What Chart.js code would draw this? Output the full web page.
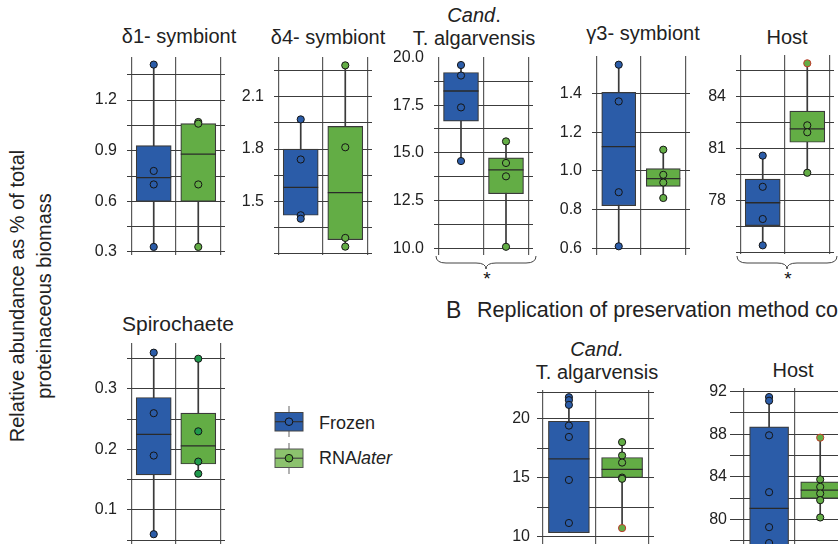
<!DOCTYPE html>
<html>
<head>
<meta charset="utf-8">
<script src="https://cdn.jsdelivr.net/npm/chart.js@4"></script>
<style>
  body { margin: 0; width: 838px; height: 544px; overflow: hidden; background: #fff; position: relative;
         font-family: "Liberation Sans", Arial, sans-serif; color: #222; }
  canvas { position: absolute; }
  .t { position: absolute; transform: translate(-50%, -50%); font-size: 20px; line-height: 23px;
       white-space: nowrap; text-align: center; }
  .l { position: absolute; font-size: 18px; white-space: nowrap; transform: translateY(-50%); }
  svg { position: absolute; left: 0; top: 0; }
</style>
</head>
<body>

<div class="t" style="left:179px;top:36px">δ1- symbiont</div>
<div class="t" style="left:328px;top:37px">δ4- symbiont</div>
<div class="t" style="left:474px;top:27px"><i>Cand</i>.<br>T. algarvensis</div>
<div class="t" style="left:643px;top:33px">γ3- symbiont</div>
<div class="t" style="left:787px;top:37px">Host</div>
<div class="t" style="left:178px;top:323px;font-size:21px">Spirochaete</div>
<div class="t" style="left:597px;top:361px"><i>Cand.</i><br>T. algarvensis</div>
<div class="t" style="left:793px;top:370px">Host</div>

<div class="t" style="left:31px;top:296px;transform:translate(-50%,-50%) rotate(-90deg);line-height:27px">Relative abundance as % of total<br>proteinaceous biomass</div>

<div class="l" style="left:446px;top:310px;font-size:23px">B</div>
<div class="l" style="left:477px;top:310px;font-size:21.5px">Replication of preservation method comparison</div>

<div class="l" style="left:319px;top:423px">Frozen</div>
<div class="l" style="left:319px;top:458px">RNA<i>later</i></div>

<svg width="838" height="544">
  <!-- braces -->
  <path d="M436 256 Q436 263 446 263 L476 263 Q486 263 486 269 Q486 263 496 263 L526 263 Q536 263 536 256" fill="none" stroke="#444" stroke-width="1"/>
  <path d="M737 256 Q737 263 747 263 L777 263 Q787 263 787 269 Q787 263 797 263 L827 263 Q837 263 837 256" fill="none" stroke="#444" stroke-width="1"/>
  <text x="487" y="285" font-size="19" text-anchor="middle" fill="#111">*</text>
  <text x="788" y="285" font-size="19" text-anchor="middle" fill="#111">*</text>
  <!-- legend icons -->
  <line x1="289" y1="406" x2="289" y2="437" stroke="#888" stroke-width="1.3"/>
  <rect x="275" y="412.5" width="28" height="18.5" fill="#2b5ca8" stroke="#444" stroke-width="1"/>
  <line x1="275" y1="421.7" x2="303" y2="421.7" stroke="#333" stroke-width="1.2"/>
  <circle cx="289" cy="421.7" r="3.8" fill="#2b5ca8" stroke="#111" stroke-width="1"/>
  <line x1="289" y1="443" x2="289" y2="474" stroke="#888" stroke-width="1.3"/>
  <rect x="275" y="449" width="28" height="18.5" fill="#8cc26e" stroke="#555" stroke-width="1"/>
  <line x1="275" y1="458.2" x2="303" y2="458.2" stroke="#444" stroke-width="1.2"/>
  <circle cx="289" cy="458.2" r="3.8" fill="#5fad3f" stroke="#111" stroke-width="1"/>
</svg>

<canvas id="d1"></canvas>
<canvas id="d4"></canvas>
<canvas id="candA"></canvas>
<canvas id="g3"></canvas>
<canvas id="hostA"></canvas>
<canvas id="spiro"></canvas>
<canvas id="candB"></canvas>
<canvas id="hostB"></canvas>

<script>
const family = '"Liberation Sans", Arial, sans-serif';
const frozenBlue = '#2b5ca8';
const rnaGreen = '#63ad45';

// δ1- symbiont
const d1FrozenPts = [1.41, 0.78, 0.70, 0.33];
const d1RnaPts = [1.07, 1.06, 0.70, 0.33];
const d1FrozenBox = [0.60, 0.74, 0.93];   // q1, median, q3
const d1RnaBox = [0.60, 0.88, 1.06];
const d1Grid = [0.3, 0.45, 0.6, 0.75, 0.9, 1.05, 1.2, 1.35];
const d1Labels = [0.3, 0.6, 0.9, 1.2];

// δ4- symbiont
const d4FrozenPts = [1.97, 1.74, 1.42, 1.40];
const d4RnaPts = [2.28, 1.81, 1.29, 1.24];
const d4FrozenBox = [1.42, 1.58, 1.80];
const d4RnaBox = [1.28, 1.55, 1.93];
const d4Grid = [1.2, 1.35, 1.5, 1.65, 1.8, 1.95, 2.1, 2.25];
const d4Labels = [1.5, 1.8, 2.1];

// Cand. T. algarvensis (A)
const caFrozenPts = [19.6, 19.05, 17.38, 14.57];
const caRnaPts = [15.6, 14.47, 13.77, 10.08];
const caFrozenBox = [16.66, 18.24, 19.21];
const caRnaBox = [12.86, 14.11, 14.74];
const caGrid = [10, 11.25, 12.5, 13.75, 15, 16.25, 17.5, 18.75, 20];
const caLabels = [10, 12.5, 15, 17.5, 20];

// γ3- symbiont
const g3FrozenPts = [1.55, 1.36, 0.89, 0.61];
const g3RnaPts = [1.11, 0.98, 0.94, 0.86];
const g3FrozenBox = [0.82, 1.126, 1.407];
const g3RnaBox = [0.92, 0.96, 1.012];
const g3Grid = [0.6, 0.7, 0.8, 0.9, 1.0, 1.1, 1.2, 1.3, 1.4, 1.5];
const g3Labels = [0.6, 0.8, 1.0, 1.2, 1.4];

// Host (A)
const haFrozenPts = [80.6, 78.8, 76.94, 75.42];
const haRnaPts = [85.93, 82.35, 81.95, 79.61];
const haFrozenBox = [76.56, 77.88, 79.25];
const haRnaBox = [81.37, 82.15, 83.17];
const haGrid = [75, 76.5, 78, 79.5, 81, 82.5, 84, 85.5];
const haLabels = [78, 81, 84];

// Spirochaete
const spFrozenPts = [0.36, 0.26, 0.19, 0.06];
const spRnaPts = [0.35, 0.23, 0.18, 0.16];
const spFrozenBox = [0.158, 0.225, 0.286];
const spRnaBox = [0.176, 0.206, 0.26];
const spGrid = [0.05, 0.1, 0.15, 0.2, 0.25, 0.3, 0.35];
const spLabels = [0.1, 0.2, 0.3];

// Cand. T. algarvensis (B)
const cbFrozenPts = [21.8, 21.55, 21.15, 19.4, 18.44, 14.8, 11.16];
const cbRnaPts = [18.0, 16.87, 16.27, 15.0, 14.9, 10.73];
const cbFrozenBox = [10.34, 16.59, 19.77];
const cbRnaBox = [15.0, 15.7, 16.7];
const cbGrid = [10, 12.5, 15, 17.5, 20, 22.2];
const cbLabels = [10, 15, 20];

// Host (B)
const hbFrozenPts = [91.5, 91.15, 87.9, 82.55, 79.26, 77.76];
const hbRnaPts = [87.68, 83.75, 83.05, 82.43, 81.8, 80.17];
const hbFrozenBox = [74.0, 81.03, 88.7];
const hbRnaBox = [81.96, 82.75, 83.53];
const hbGrid = [78, 80, 82, 84, 86, 88, 90, 92];
const hbLabels = [80, 84, 88, 92];

function makePanel(id, p) {
  const axisW = 40;
  const cv = document.getElementById(id);
  cv.width = axisW + (p.area[2] - p.area[0]) + 2;
  cv.height = (p.area[3] - p.area[1]) + 20;
  cv.style.left = (p.area[0] - axisW) + 'px';
  cv.style.top = (p.area[1] - 10) + 'px';

  const boxes = [p.frozenBox, p.rnaBox];
  const pts = [p.frozenPts, p.rnaPts];

  const boxExtras = {
    id: 'boxExtras',
    beforeDatasetsDraw(chart) {
      // whiskers
      const { ctx, chartArea, scales: { x, y } } = chart;
      ctx.save();
      ctx.beginPath();
      ctx.rect(chartArea.left, chartArea.top, chartArea.width, chartArea.height);
      ctx.clip();
      ctx.strokeStyle = '#3a3a3a';
      ctx.lineWidth = 1.7;
      pts.forEach((arr, i) => {
        const px = x.getPixelForValue(i + 1);
        ctx.beginPath();
        ctx.moveTo(px, y.getPixelForValue(Math.max(...arr, boxes[i][2])));
        ctx.lineTo(px, y.getPixelForValue(Math.min(...arr, boxes[i][0])));
        ctx.stroke();
      });
      ctx.restore();
    },
    afterDatasetDraw(chart, args) {
      if (args.index !== 0) return;
      // medians
      const { ctx, scales: { y } } = chart;
      ctx.save();
      ctx.strokeStyle = '#2a2a2a';
      ctx.lineWidth = 1.3;
      chart.getDatasetMeta(0).data.forEach((bar, i) => {
        const py = y.getPixelForValue(boxes[i][1]);
        ctx.beginPath();
        ctx.moveTo(bar.x - bar.width / 2, py);
        ctx.lineTo(bar.x + bar.width / 2, py);
        ctx.stroke();
      });
      ctx.restore();
    }
  };

  const redEdge = p.redEdge || [];
  new Chart(cv, {
    data: {
      datasets: [{
        type: 'bar',
        order: 2,
        data: [{ x: 1, y: [p.frozenBox[0], p.frozenBox[2]] }, { x: 2, y: [p.rnaBox[0], p.rnaBox[2]] }],
        backgroundColor: [frozenBlue, rnaGreen],
        borderColor: '#3a3a3a',
        borderWidth: 1.2,
        borderSkipped: false,
        barThickness: p.boxW
      }, {
        type: 'scatter',
        order: 1,
        data: p.frozenPts.map(v => ({ x: 1, y: v })),
        pointRadius: p.r || 3.6,
        pointBackgroundColor: frozenBlue,
        pointBorderColor: '#151515',
        pointBorderWidth: 1
      }, {
        type: 'scatter',
        order: 0,
        data: p.rnaPts.map(v => ({ x: 2, y: v })),
        pointRadius: p.r || 3.6,
        pointBackgroundColor: p.rnaPtColor || rnaGreen,
        pointBorderColor: p.rnaPts.map(v => redEdge.includes(v) ? '#c0392b' : '#151515'),
        pointBorderWidth: 1
      }]
    },
    options: {
      responsive: false,
      animation: false,
      events: [],
      layout: { padding: { top: 10, bottom: 10, left: 0, right: 2 } },
      plugins: { legend: { display: false }, tooltip: { enabled: false } },
      scales: {
        x: {
          type: 'linear',
          min: p.xr[0], max: p.xr[1],
          offset: false,
          afterBuildTicks: s => { s.ticks = [{ value: 1 }, { value: 2 }]; },
          afterFit: s => { s.height = 0; s.paddingLeft = 0; s.paddingRight = 0; },
          ticks: { display: false },
          grid: { color: '#5a5a5a', lineWidth: 1.2, drawTicks: false },
          border: { display: false }
        },
        y: {
          min: p.yr[0], max: p.yr[1],
          afterBuildTicks: s => { s.ticks = p.grid.map(v => ({ value: v })); },
          afterFit: s => { s.width = axisW; s.paddingTop = 0; s.paddingBottom = 0; },
          ticks: {
            padding: p.pad || 10,
            color: '#222',
            font: { family: family, size: 16 },
            callback: v => p.labels.includes(v) ? v.toFixed(p.dec) : ''
          },
          grid: {
            drawTicks: false,
            lineWidth: 1,
            color: c => (p.hideGrid || []).includes(c.tick && c.tick.value) ? 'rgba(0,0,0,0)' : '#3c3c3c'
          },
          border: { display: false }
        }
      }
    },
    plugins: [boxExtras]
  });
}

makePanel('d1', { area: [127, 57, 228, 255], xr: [0.4, 2.6], yr: [0.282, 1.455], boxW: 35,
  frozenPts: d1FrozenPts, rnaPts: d1RnaPts, frozenBox: d1FrozenBox, rnaBox: d1RnaBox,
  grid: d1Grid, labels: d1Labels, dec: 1 });
makePanel('d4', { area: [274, 57, 375, 255], xr: [0.4, 2.6], yr: [1.192, 2.328], boxW: 35,
  frozenPts: d4FrozenPts, rnaPts: d4RnaPts, frozenBox: d4FrozenBox, rnaBox: d4RnaBox,
  grid: d4Grid, labels: d4Labels, dec: 1 });
makePanel('candA', { area: [434, 57, 536, 255], xr: [0.4, 2.6], yr: [9.65, 20.02], boxW: 35,
  frozenPts: caFrozenPts, rnaPts: caRnaPts, frozenBox: caFrozenBox, rnaBox: caRnaBox,
  grid: caGrid, labels: caLabels, hideGrid: [20], dec: 1 });
makePanel('g3', { area: [592, 56, 693, 255], xr: [0.4, 2.6], yr: [0.565, 1.595], boxW: 34,
  frozenPts: g3FrozenPts, rnaPts: g3RnaPts, frozenBox: g3FrozenBox, rnaBox: g3RnaBox,
  grid: g3Grid, labels: g3Labels, dec: 1 });
makePanel('hostA', { area: [736, 55, 837, 254], xr: [0.4, 2.6], yr: [74.92, 86.41], boxW: 35,
  frozenPts: haFrozenPts, rnaPts: haRnaPts, frozenBox: haFrozenBox, rnaBox: haRnaBox,
  grid: haGrid, labels: haLabels, dec: 0, redEdge: [85.93] });
makePanel('spiro', { area: [127, 343, 228, 546], xr: [0.4, 2.6], yr: [0.0405, 0.376], boxW: 35,
  frozenPts: spFrozenPts, rnaPts: spRnaPts, frozenBox: spFrozenBox, rnaBox: spRnaBox,
  grid: spGrid, labels: spLabels, dec: 1, rnaPtColor: '#1f9a4c' });
makePanel('candB', { area: [537, 390, 657, 560], xr: [0.4, 2.6], yr: [8.03, 22.41], boxW: 41,
  frozenPts: cbFrozenPts, rnaPts: cbRnaPts, frozenBox: cbFrozenBox, rnaBox: cbRnaBox,
  grid: cbGrid, labels: cbLabels, dec: 0, pad: 7, redEdge: [10.73] });
makePanel('hostB', { area: [730, 388, 860, 560], xr: [0.235, 2.72], yr: [76.17, 92.35], boxW: 39,
  frozenPts: hbFrozenPts, rnaPts: hbRnaPts, frozenBox: hbFrozenBox, rnaBox: hbRnaBox,
  grid: hbGrid, labels: hbLabels, dec: 0, pad: 3, redEdge: [87.68] });
</script>
</body>
</html>
